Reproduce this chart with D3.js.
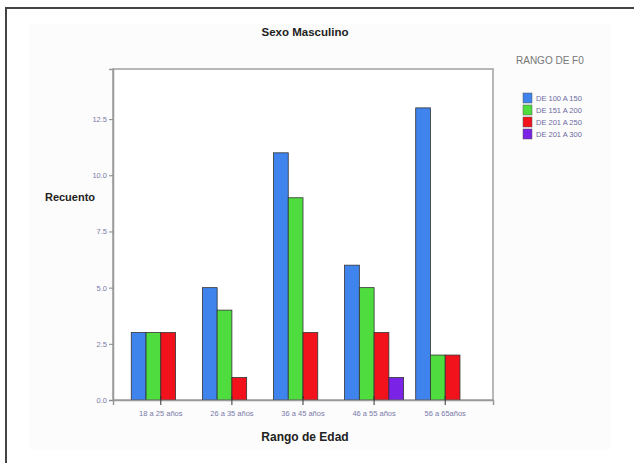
<!DOCTYPE html>
<html>
<head>
<meta charset="utf-8">
<script src="https://cdn.jsdelivr.net/npm/d3@7"></script>
<style>
  body { margin: 0; background: #fff; }
  svg { display: block; font-family: "Liberation Sans", Arial, sans-serif; }
</style>
</head>
<body>
<div id="wrapper"></div>
<script>
// data
const categories = ["18 a 25 años", "26 a 35 años", "36 a 45 años", "46 a 55 años", "56 a 65años"]
const seriesNames = ["DE 100 A 150", "DE 151 A 200", "DE 201 A 250", "DE 201 A 300"]
const seriesColors = ["#3f83ec", "#4fdc3e", "#f2121c", "#7a22e6"]
const values100a150 = [3, 5, 11, 6, 13]
const values151a200 = [3, 4, 9, 5, 2]
const values201a250 = [3, 1, 3, 3, 2]
const values251a300 = [0, 0, 0, 1, 0]
const yTicks = [0, 2.5, 5, 7.5, 10, 12.5]

const seriesValues = [values100a150, values151a200, values201a250, values251a300]
const dataset = categories.map((c, i) => ({
  category: c,
  bars: seriesNames.map((s, j) => ({ series: s, index: j, value: seriesValues[j][i] }))
}))

const dimensions = {
  width: 634,
  height: 463,
  margin: { top: 69, right: 141, bottom: 63, left: 113 },
}
dimensions.boundedWidth = dimensions.width - dimensions.margin.left - dimensions.margin.right
dimensions.boundedHeight = dimensions.height - dimensions.margin.top - dimensions.margin.bottom

const wrapper = d3.select("#wrapper")
  .append("svg")
    .attr("width", dimensions.width)
    .attr("height", dimensions.height)

// faint chart background and outer border (top + left only)
wrapper.append("rect")
    .attr("x", 30).attr("y", 24)
    .attr("width", 580).attr("height", 426)
    .attr("fill", "#fcfcfc")
wrapper.append("path")
    .attr("d", "M6,463 V8 H634")
    .attr("fill", "none")
    .attr("stroke", "#444")
    .attr("stroke-width", 2)

const bounds = wrapper.append("g")
    .attr("transform", `translate(${dimensions.margin.left},${dimensions.margin.top})`)

// scales
const yScale = d3.scaleLinear()
  .domain([0, 14.73])
  .range([dimensions.boundedHeight, 0])

const xScale = d3.scaleBand()
  .domain(categories)
  .range([0, dimensions.boundedWidth])
  .paddingInner(0.17)
  .paddingOuter(0.257)

const subScale = d3.scaleBand()
  .domain(seriesNames)
  .range([0, xScale.bandwidth()])

const colorScale = d3.scaleOrdinal()
  .domain(seriesNames)
  .range(seriesColors)

// plot frame
bounds.append("rect")
    .attr("width", dimensions.boundedWidth)
    .attr("height", dimensions.boundedHeight)
    .attr("fill", "#fff")
    .attr("stroke", "#a0a0a0")
    .attr("stroke-width", 1.5)

// bars
const groups = bounds.selectAll(".group")
  .data(dataset)
  .join("g")
    .attr("class", "group")
    .attr("transform", d => `translate(${xScale(d.category)},0)`)

groups.selectAll("rect")
  .data(d => d.bars.filter(b => b.value > 0))
  .join("rect")
    .attr("x", d => subScale(d.series))
    .attr("width", subScale.bandwidth())
    .attr("y", d => yScale(d.value))
    .attr("height", d => dimensions.boundedHeight - yScale(d.value))
    .attr("fill", d => colorScale(d.series))
    .attr("stroke", "#333")
    .attr("stroke-width", 0.8)

// axes
const yAxisGenerator = d3.axisLeft(yScale)
  .tickValues(yTicks)
  .tickFormat(d3.format(".1f"))
  .tickSize(4)
  .tickPadding(2)

const yAxis = bounds.append("g")
    .attr("class", "y-axis")
  .call(yAxisGenerator)
yAxis.select(".domain").attr("stroke", "#999").attr("stroke-width", 1.5)
yAxis.selectAll(".tick line").attr("stroke", "#888")
yAxis.selectAll(".tick text")
    .attr("fill", "#7a7aa8")
    .style("font-size", "7.5px")

const xAxisGenerator = d3.axisBottom(xScale)
  .tickSize(5)
  .tickPadding(6)

const xAxis = bounds.append("g")
    .attr("class", "x-axis")
    .attr("transform", `translate(0,${dimensions.boundedHeight})`)
  .call(xAxisGenerator)
xAxis.select(".domain").attr("stroke", "#999").attr("stroke-width", 1.5)
xAxis.selectAll(".tick line").attr("stroke", "#333").attr("y1", -4)
xAxis.selectAll(".tick text")
    .attr("fill", "#7a7aa8")
    .style("font-size", "7.5px")

// titles
wrapper.append("text")
    .attr("x", 305).attr("y", 36)
    .attr("text-anchor", "middle")
    .style("font-size", "11.5px")
    .style("font-weight", "bold")
    .attr("fill", "#222")
    .text("Sexo Masculino")

wrapper.append("text")
    .attr("x", 70).attr("y", 201)
    .attr("text-anchor", "middle")
    .style("font-size", "11px")
    .style("font-weight", "bold")
    .attr("fill", "#222")
    .text("Recuento")

wrapper.append("text")
    .attr("x", 305).attr("y", 441)
    .attr("text-anchor", "middle")
    .style("font-size", "12px")
    .style("font-weight", "bold")
    .attr("fill", "#222")
    .text("Rango de Edad")

// legend
wrapper.append("text")
    .attr("x", 516).attr("y", 64)
    .style("font-size", "10px")
    .attr("fill", "#777")
    .text("RANGO DE F0")

const legend = wrapper.append("g")
    .attr("transform", "translate(523,93)")

const legendItems = legend.selectAll("g")
  .data(seriesNames)
  .join("g")
    .attr("transform", (d, i) => `translate(0,${i * 12})`)

legendItems.append("rect")
    .attr("width", 9)
    .attr("height", 10)
    .attr("fill", d => colorScale(d))
    .attr("stroke", "#555")
    .attr("stroke-width", 0.5)

legendItems.append("text")
    .attr("x", 13).attr("y", 8)
    .style("font-size", "7.5px")
    .attr("fill", "#6a6aa0")
    .text(d => d)
</script>
</body>
</html>
